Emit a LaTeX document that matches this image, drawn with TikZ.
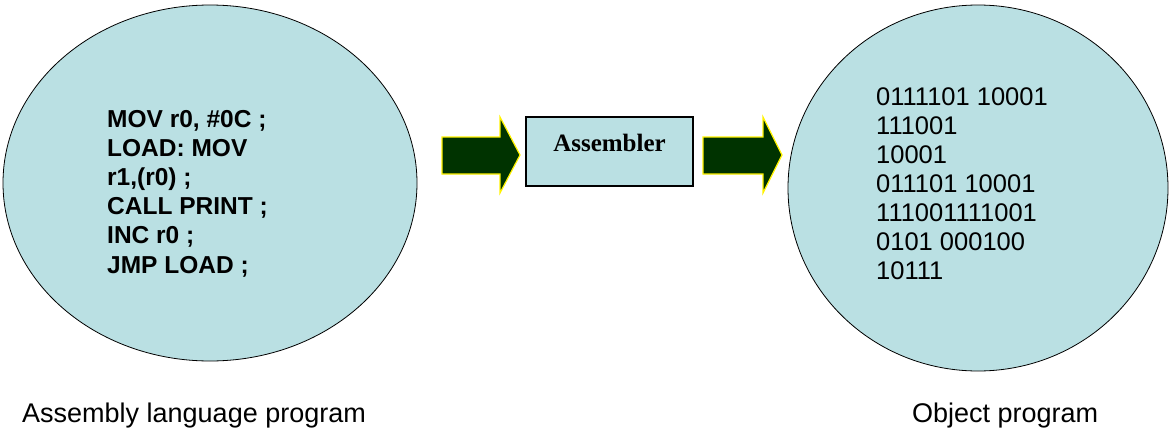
\documentclass[tikz,border=0pt]{standalone}
\usepackage{fontspec}
\setmainfont{Liberation Sans}
\newfontfamily\timesfont{Liberation Serif}
\begin{document}
\begin{tikzpicture}[x=1pt,y=-1pt]
\definecolor{blobfill}{RGB}{186,224,227}
\definecolor{arrowgreen}{RGB}{0,51,0}
\tikzset{
  blob/.style={draw=black, line width=0.8pt, fill=blobfill},
  bigarrow/.style={draw=yellow, line width=1.2pt, fill=arrowgreen, line join=miter},
  codeline/.style={anchor=base west, inner sep=0pt, font=\fontsize{24.5}{29}\selectfont\bfseries},
  binline/.style={anchor=base west, inner sep=0pt, font=\fontsize{25.5}{29}\selectfont},
  caption/.style={anchor=base west, inner sep=0pt, font=\fontsize{27}{32}\selectfont},
}
\useasboundingbox (0,0) rectangle (1170,431);
% ellipses
\draw[blob] (210,183) ellipse [x radius=207, y radius=178];
\draw[blob] (978,188) ellipse [x radius=190, y radius=183];
% assembler box
\node[draw=black, line width=1.2pt, fill=blobfill, minimum width=167pt, minimum height=69pt, inner sep=0pt] (asmbox) at (609.5,151.5) {};
\node[inner sep=0pt, anchor=base, font=\timesfont\fontsize{25}{29}\selectfont\bfseries] (asmlabel) at (609.5,151.5) {Assembler};
% arrows
\draw[bigarrow] (442,137) -- (500,137) -- (500,117) -- (520,155) -- (500,193) -- (500,174) -- (442,174) -- cycle;
\draw[bigarrow] (703,137) -- (763,137) -- (763,117) -- (782,155) -- (763,193) -- (763,174) -- (703,174) -- cycle;
% code text
\foreach \t [count=\i] in {{MOV r0, \#0C ;}, LOAD: MOV, {r1,(r0) ;}, CALL PRINT ;, INC r0 ;, JMP LOAD ;}
  \node[codeline] (code\i) at (107,{127+29.2*(\i-1)}) {\t};
\foreach \t [count=\i] in {0111101 10001, 111001, 10001, 011101 10001, 111001111001, 0101 000100, 10111}
  \node[binline] (bin\i) at (876,{105+29*(\i-1)}) {\t};
% captions
\node[caption] (cap1) at (22,422) {Assembly language program};
\node[caption] (cap2) at (912,422) {Object program};
\end{tikzpicture}
\end{document}
